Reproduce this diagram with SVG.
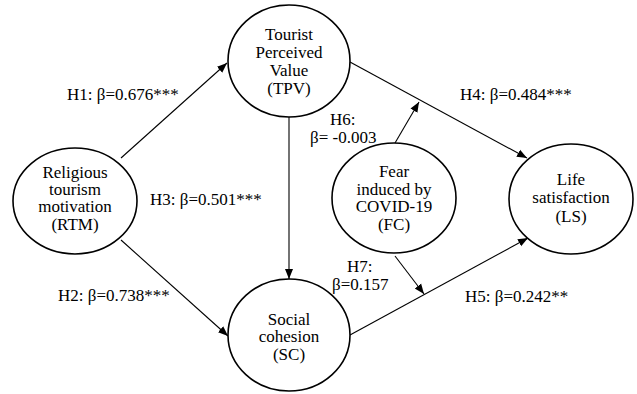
<svg xmlns="http://www.w3.org/2000/svg" width="637" height="394" viewBox="0 0 637 394">
<style>
text{font-family:"Liberation Serif","Times New Roman",serif;font-size:17px;fill:#000}
.n text{text-anchor:middle}
.n ellipse{fill:#fff;stroke:#000;stroke-width:1.6}
#edges line{stroke:#000;stroke-width:1.1;marker-end:url(#ah)}
</style>
<defs>
<marker id="ah" viewBox="0 0 10 10" refX="10" refY="5" markerWidth="10" markerHeight="10" markerUnits="userSpaceOnUse" orient="auto">
<path d="M0,1 L10,5 L0,9 z" fill="#000"/>
</marker>
</defs>
<rect width="637" height="394" fill="#fff"/>
<g id="edges">
<line x1="121" y1="158" x2="227" y2="63"/>
<line x1="121" y1="240" x2="228" y2="336"/>
<line x1="289" y1="117" x2="289" y2="279"/>
<line x1="350" y1="62" x2="527" y2="158"/>
<line x1="350" y1="335" x2="528" y2="238"/>
<line x1="395" y1="143" x2="419" y2="102"/>
<line x1="395" y1="256" x2="424" y2="294"/>
</g>
<g id="labels">
<text x="67" y="100">H1: β=0.676***</text>
<text x="150" y="205">H3: β=0.501***</text>
<text x="58" y="301">H2: β=0.738***</text>
<text x="460" y="100">H4: β=0.484***</text>
<text x="330" y="125">H6:</text>
<text x="310" y="143">β= -0.003</text>
<text x="347" y="272">H7:</text>
<text x="332" y="290">β=0.157</text>
<text x="465" y="302">H5: β=0.242**</text>
</g>
<g id="TPV" class="n">
<ellipse cx="289" cy="61" rx="61" ry="56"/>
<text x="289" y="40">Tourist</text>
<text x="289" y="58">Perceived</text>
<text x="289" y="76">Value</text>
<text x="289" y="94">(TPV)</text>
</g>
<g id="RTM" class="n">
<ellipse cx="75" cy="201" rx="62" ry="53"/>
<text x="75" y="178">Religious</text>
<text x="75" y="195">tourism</text>
<text x="75" y="212">motivation</text>
<text x="75" y="230">(RTM)</text>
</g>
<g id="SC" class="n">
<ellipse cx="289" cy="335" rx="61" ry="56"/>
<text x="289" y="325">Social</text>
<text x="289" y="342">cohesion</text>
<text x="289" y="360">(SC)</text>
</g>
<g id="FC" class="n">
<ellipse cx="394" cy="198" rx="62" ry="55"/>
<text x="394" y="177">Fear</text>
<text x="394" y="195">induced by</text>
<text x="394" y="212">COVID-19</text>
<text x="394" y="230">(FC)</text>
</g>
<g id="LS" class="n">
<ellipse cx="571" cy="199" rx="62" ry="55"/>
<text x="571" y="185">Life</text>
<text x="571" y="203">satisfaction</text>
<text x="571" y="222">(LS)</text>
</g>
</svg>
